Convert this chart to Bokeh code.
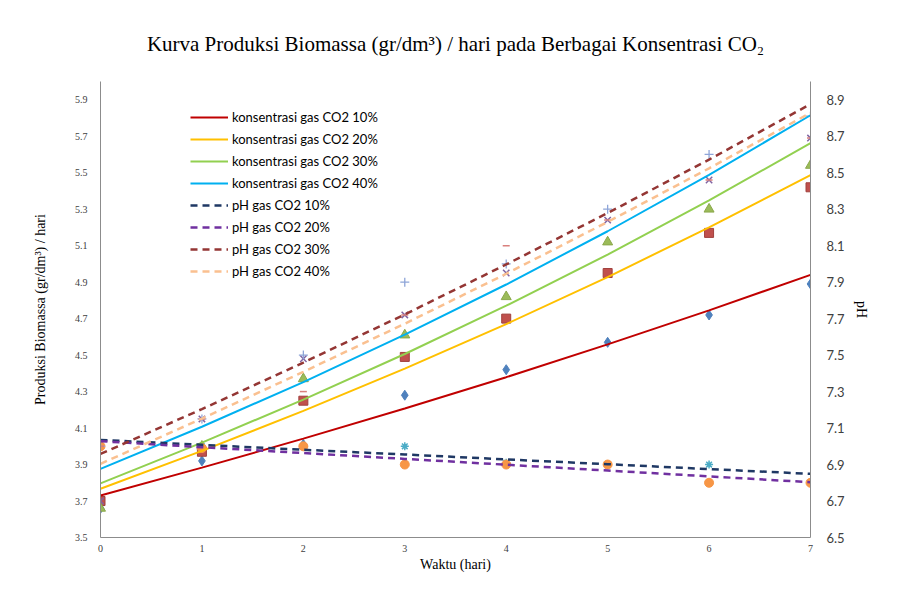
from bokeh.plotting import figure
from bokeh.models import Range1d, LinearAxis, FixedTicker, Legend, LegendItem
from bokeh.embed import file_html
from bokeh.resources import INLINE

days = [0, 1, 2, 3, 4, 5, 6, 7]

# measured biomass (gr/dm3 per day)
bio_10 = [3.66, 3.92, 4.01, 4.28, 4.42, 4.57, 4.72, 4.89]
bio_20 = [3.70, 3.97, 4.25, 4.49, 4.70, 4.95, 5.17, 5.42]
bio_30 = [3.66, 4.00, 4.37, 4.61, 4.82, 5.12, 5.30, 5.54]
bio_40 = [3.70, 4.15, 4.48, 4.72, 4.95, 5.24, 5.46, 5.69]
# measured pH
ph_10 = [7.00, 7.00, 7.00, 7.00, 6.91, 6.90, 6.90, 6.80]
ph_20 = [7.00, 6.99, 7.00, 6.90, 6.90, 6.90, 6.80, 6.80]
ph_30 = [7.00, 7.15, 7.50, 7.90, 8.00, 8.30, 8.60, 8.81]
ph_40 = [7.00, 7.15, 7.30, 7.72, 8.10, 8.24, 8.46, 8.69]

# trendline values
tr_bio_10 = [3.730, 3.883, 4.042, 4.207, 4.379, 4.559, 4.745, 4.940]
tr_bio_20 = [3.767, 3.975, 4.194, 4.426, 4.670, 4.928, 5.200, 5.487]
tr_bio_30 = [3.797, 4.020, 4.256, 4.506, 4.771, 5.051, 5.348, 5.662]
tr_bio_40 = [3.876, 4.107, 4.352, 4.612, 4.887, 5.179, 5.488, 5.815]
tr_ph_10 = [7.035, 7.008, 6.981, 6.955, 6.928, 6.902, 6.875, 6.849]
tr_ph_20 = [7.028, 6.995, 6.963, 6.931, 6.899, 6.867, 6.835, 6.803]
tr_ph_30 = [6.958, 7.204, 7.459, 7.723, 7.997, 8.279, 8.572, 8.876]
tr_ph_40 = [6.904, 7.152, 7.408, 7.672, 7.946, 8.230, 8.524, 8.828]

left_ticks = [3.5, 3.7, 3.9, 4.1, 4.3, 4.5, 4.7, 4.9, 5.1, 5.3, 5.5, 5.7, 5.9]
right_ticks = [6.5, 6.7, 6.9, 7.1, 7.3, 7.5, 7.7, 7.9, 8.1, 8.3, 8.5, 8.7, 8.9]

title_text = "Kurva Produksi Biomassa (gr/dm\u00b3) / hari pada Berbagai Konsentrasi CO\u2082"

p = figure(width=883, height=587, output_backend="svg", toolbar_location=None,
           x_range=Range1d(0, 7), y_range=Range1d(3.5, 6.0),
           min_border_left=100, min_border_right=73, min_border_top=81, min_border_bottom=50)
p.extra_y_ranges = {"ph": Range1d(6.5, 9.0)}
p.xgrid.visible = False
p.ygrid.visible = False
p.outline_line_color = None
p.background_fill_color = "white"
p.border_fill_color = "white"

p.title.text = title_text
p.title.align = "center"
p.title.text_font = "Liberation Serif"
p.title.text_font_size = "21px"
p.title.text_font_style = "normal"
p.title.text_color = "#000000"
p.title.standoff = 51

axis_color = "#8c8c8c"
serif = "Liberation Serif"

xa = p.xaxis[0]
xa.ticker = FixedTicker(ticks=days)
xa.axis_label = "Waktu (hari)"
ya = p.yaxis[0]
ya.ticker = FixedTicker(ticks=left_ticks)
ya.axis_label = "Produksi Biomassa (gr/dm\u00b3) / hari"
ra = LinearAxis(y_range_name="ph", ticker=FixedTicker(ticks=right_ticks), axis_label="pH")
p.add_layout(ra, "right")

for ax in (xa, ya, ra):
    ax.axis_line_color = axis_color
    ax.major_tick_line_color = None
    ax.minor_tick_line_color = None
    ax.axis_label_text_font = serif
    ax.axis_label_text_font_style = "normal"
    ax.axis_label_text_font_size = "14px"
    ax.axis_label_text_color = "#000000"
    ax.major_label_text_color = "#404040"

xa.major_label_text_font = serif
xa.major_label_text_font_size = "10px"
xa.major_label_standoff = 1
xa.axis_label_standoff = 2
ya.major_label_text_font = serif
ya.major_label_text_font_size = "10px"
ya.major_label_standoff = 7
ya.axis_label_standoff = 24
ra.major_label_text_font = "Lato"
ra.major_label_text_font_size = "13px"
ra.major_label_standoff = 10
ra.axis_label_standoff = 6

# scatter markers
p.scatter(days, bio_10, marker="diamond", size=10, fill_color="#4F81BD", line_color="#4F81BD")
p.scatter(days, bio_20, marker="square", size=9, fill_color="#C0504D", line_color="#A0403D")
p.scatter(days, bio_30, marker="triangle", size=10, fill_color="#9BBB59", line_color="#8AA84A")
p.scatter(days, bio_40, marker="x", size=9, line_color="#8064A2", line_width=1.5)
p.scatter(days, ph_10, marker="asterisk", size=8, line_color="#4BACC6", line_width=1.5, y_range_name="ph")
p.scatter(days, ph_20, marker="circle", size=9, fill_color="#F79646", line_color="#F79646", y_range_name="ph")
p.scatter(days, ph_30, marker="cross", size=9, line_color="#8EA5D8", line_width=1.3, y_range_name="ph")
p.scatter(days, ph_40, marker="dash", size=7, line_color="#D9807D", line_width=1.5, y_range_name="ph")

# trendlines
r1 = p.line(days, tr_bio_10, line_color="#C00000", line_width=2)
r2 = p.line(days, tr_bio_20, line_color="#FFC000", line_width=2)
r3 = p.line(days, tr_bio_30, line_color="#92D050", line_width=2)
r4 = p.line(days, tr_bio_40, line_color="#00B0F0", line_width=2)
r5 = p.line(days, tr_ph_10, line_color="#1F3864", line_width=2.5, line_dash="7 5", y_range_name="ph")
r6 = p.line(days, tr_ph_20, line_color="#7030A0", line_width=2.5, line_dash="7 5", y_range_name="ph")
r7 = p.line(days, tr_ph_30, line_color="#943634", line_width=2.5, line_dash="7 5", y_range_name="ph")
r8 = p.line(days, tr_ph_40, line_color="#FAC090", line_width=2.5, line_dash="7 5", y_range_name="ph")

labels = ["konsentrasi gas CO2 10%", "konsentrasi gas CO2 20%", "konsentrasi gas CO2 30%",
          "konsentrasi gas CO2 40%", "pH gas CO2 10%", "pH gas CO2 20%", "pH gas CO2 30%",
          "pH gas CO2 40%"]
rends = [r1, r2, r3, r4, r5, r6, r7, r8]
legend = Legend(items=[LegendItem(label=l, renderers=[r]) for l, r in zip(labels, rends)],
                location=(90, 256), orientation="vertical")
legend.margin = 0
legend.padding = 0
legend.border_line_color = None
legend.background_fill_alpha = 0
legend.label_text_font = "Lato"
legend.label_text_font_size = "13px"
legend.label_text_color = "#000000"
legend.glyph_width = 38
legend.glyph_height = 20
legend.label_standoff = 4
legend.spacing = 2
legend.label_height = 20
p.add_layout(legend)

open("out.html", "w").write(file_html(p, INLINE))
